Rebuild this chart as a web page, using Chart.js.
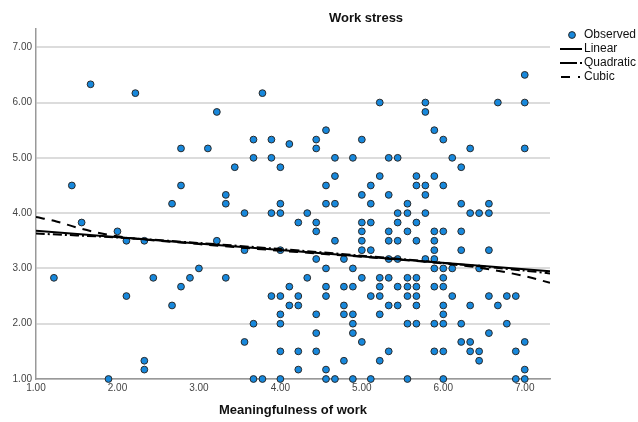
<!DOCTYPE html>
<html>
<head>
<meta charset="utf-8">
<script src="https://cdn.jsdelivr.net/npm/chart.js@4.4.0/dist/chart.umd.min.js"></script>
<style>
  html, body { margin: 0; padding: 0; background: #fff; }
  #wrap { width: 638px; height: 422px; }
</style>
</head>
<body>
<div id="wrap"><canvas id="chart" width="638" height="422"></canvas></div>
<script>
// chart texts
const TITLE = 'Work stress';
const X_TITLE = 'Meaningfulness of work';
const LEGEND_LABELS = ['Observed', 'Linear', 'Quadratic', 'Cubic'];

// axis ticks
const xTicks = [1, 2, 3, 4, 5, 6, 7];
const yTicks = [1, 2, 3, 4, 5, 6, 7];

// observed points: one x column, then every y value seen at that x
const obsCols = [
  1.22, 1.44, 1.56, 1.67, 1.89, 2.00, 2.11, 2.22, 2.33, 2.44,
  2.67, 2.78, 2.89, 3.00, 3.11, 3.22, 3.33, 3.44, 3.56, 3.67,
  3.78, 3.89, 4.00, 4.11, 4.22, 4.33, 4.44, 4.56, 4.67, 4.78,
  4.89, 5.00, 5.11, 5.22, 5.33, 5.44, 5.56, 5.67, 5.78, 5.89,
  6.00, 6.11, 6.22, 6.33, 6.44, 6.56, 6.67, 6.78, 6.89, 7.00
];
const obsRows = [
  [2.83], [4.50], [3.83], [6.33], [1.00], [3.67], [3.50, 2.50], [6.17], [3.50, 1.33, 1.17], [2.83],
  [4.17, 2.33], [5.17, 4.50, 2.67], [2.83], [3.00], [5.17], [5.83, 3.50], [4.33, 4.17, 2.83], [4.83],
  [4.00, 3.33, 1.67], [5.33, 5.00, 2.00, 1.00],
  [6.17, 1.00], [5.33, 5.00, 4.00, 2.50],
  [4.83, 4.17, 4.00, 3.33, 2.50, 2.17, 2.00, 1.50, 1.00],
  [5.25, 2.67, 2.33],
  [3.83, 2.50, 2.33, 1.50, 1.17],
  [4.00, 2.83],
  [5.33, 5.17, 3.83, 3.67, 3.17, 2.17, 1.83, 1.50],
  [5.50, 4.50, 4.17, 3.00, 2.67, 2.50, 1.17, 1.00],
  [5.00, 4.67, 4.17, 3.50, 1.00],
  [3.17, 2.67, 2.33, 2.17, 1.33],
  [5.00, 3.00, 2.67, 2.17, 2.00, 1.83, 1.00],
  [5.33, 4.33, 3.83, 3.67, 3.50, 3.33, 2.83, 1.67],
  [4.50, 4.17, 3.83, 3.33, 2.50, 1.00],
  [6.00, 4.67, 2.83, 2.67, 2.50, 2.17, 1.33],
  [5.00, 4.33, 3.67, 3.50, 3.17, 2.83, 2.33, 1.50],
  [5.00, 4.00, 3.83, 3.50, 3.17, 2.67, 2.33],
  [4.17, 4.00, 3.67, 2.83, 2.67, 2.50, 2.00, 1.00],
  [4.67, 4.50, 3.83, 3.50, 2.83, 2.67, 2.50, 2.33, 2.00],
  [6.00, 5.83, 4.50, 4.33, 4.00, 3.17],
  [5.50, 4.67, 3.67, 3.50, 3.33, 3.17, 3.00, 2.67, 2.00, 1.50],
  [5.33, 4.50, 3.67, 3.00, 2.83, 2.67, 2.33, 2.17, 2.00, 1.50, 1.00],
  [5.00, 3.00, 2.50],
  [4.83, 4.17, 3.67, 3.33, 2.00, 1.67],
  [5.17, 4.00, 2.33, 1.67, 1.50],
  [4.00, 3.00, 1.50, 1.33],
  [4.17, 4.00, 3.33, 2.50, 1.83],
  [6.00, 2.33],
  [2.50, 2.00],
  [2.50, 1.50, 1.00],
  [6.50, 6.00, 5.17, 1.67, 1.17, 1.00]
];

// fitted curves
const linearX = [1.00, 7.31];
const linearY = [3.68, 2.95];
const quadX = [1.00, 2.00, 3.00, 4.00, 5.00, 6.00, 7.00, 7.31];
const quadY = [3.63, 3.56, 3.46, 3.35, 3.23, 3.10, 2.96, 2.91];
const cubicX = [1.00, 1.25, 1.50, 1.75, 2.00, 3.00, 4.00, 5.00, 6.00, 6.50, 7.00, 7.31];
const cubicY = [3.93, 3.85, 3.74, 3.65, 3.58, 3.44, 3.32, 3.21, 3.09, 3.00, 2.86, 2.74];

const FONT = '"Liberation Sans", Arial, sans-serif';
const POINT_FILL = '#1788dc';
const POINT_EDGE = '#2a2a2a';

const pairs = (xs, ys) => xs.map((x, i) => ({ x, y: ys[i] }));
const observed = obsCols.flatMap((x, i) => obsRows[i].map(y => ({ x, y })));

// title + legend drawn by hand (SPSS puts them in odd places)
const overlayPlugin = {
  id: 'overlay',
  afterDraw(chart) {
    const ctx = chart.ctx;
    ctx.save();
    ctx.fillStyle = '#111';
    ctx.textBaseline = 'middle';
    ctx.font = 'bold 13px ' + FONT;
    ctx.textAlign = 'center';
    ctx.fillText(TITLE, 366, 18);

    ctx.font = '12px ' + FONT;
    ctx.textAlign = 'left';
    const rowY = [35, 49, 63, 77];
    LEGEND_LABELS.forEach((label, i) => {
      const y = rowY[i];
      ctx.fillStyle = '#111';
      ctx.fillText(label, 584, y);
      ctx.strokeStyle = '#000';
      ctx.lineWidth = 2;
      if (i === 0) {
        ctx.beginPath();
        ctx.arc(572, y, 3.4, 0, Math.PI * 2);
        ctx.fillStyle = POINT_FILL;
        ctx.fill();
        ctx.lineWidth = 1;
        ctx.strokeStyle = POINT_EDGE;
        ctx.stroke();
      } else if (i === 1) {
        ctx.beginPath(); ctx.moveTo(560, y); ctx.lineTo(582, y); ctx.stroke();
      } else if (i === 2) {
        ctx.beginPath(); ctx.moveTo(560, y); ctx.lineTo(577, y); ctx.stroke();
        ctx.fillStyle = '#000'; ctx.fillRect(580, y - 1, 2, 2);
      } else {
        ctx.beginPath(); ctx.moveTo(561, y); ctx.lineTo(570, y); ctx.stroke();
        ctx.fillStyle = '#000'; ctx.fillRect(578, y - 1, 2, 2);
      }
    });
    ctx.restore();
  }
};

new Chart(document.getElementById('chart'), {
  type: 'scatter',
  data: {
    datasets: [
      {
        label: 'Observed',
        data: observed,
        pointRadius: 3.4,
        pointBorderWidth: 1,
        pointBackgroundColor: POINT_FILL,
        pointBorderColor: POINT_EDGE,
        clip: false,
        order: 10
      },
      {
        label: 'Linear',
        data: pairs(linearX, linearY),
        showLine: true,
        pointRadius: 0,
        borderColor: '#000',
        borderWidth: 2,
        order: 1
      },
      {
        label: 'Quadratic',
        data: pairs(quadX, quadY),
        showLine: true,
        pointRadius: 0,
        borderColor: '#000',
        borderWidth: 2,
        borderDash: [9, 3, 2, 3],
        tension: 0.3,
        order: 2
      },
      {
        label: 'Cubic',
        data: pairs(cubicX, cubicY),
        showLine: true,
        pointRadius: 0,
        borderColor: '#000',
        borderWidth: 2,
        borderDash: [9, 7],
        cubicInterpolationMode: 'monotone',
        order: 3
      }
    ]
  },
  options: {
    responsive: false,
    animation: false,
    devicePixelRatio: 1,
    layout: { padding: { top: 29, right: 88, left: 0, bottom: 0 } },
    plugins: {
      legend: { display: false },
      tooltip: { enabled: false }
    },
    scales: {
      x: {
        type: 'linear',
        min: 1,
        max: 7.31,
        afterBuildTicks: s => { s.ticks = xTicks.map(v => ({ value: v })); },
        afterFit: s => { s.height = 43; },
        ticks: {
          callback: v => v.toFixed(2),
          font: { size: 10, family: FONT },
          color: '#444',
          padding: 3,
          maxRotation: 0,
          autoSkip: false
        },
        grid: { display: false, drawTicks: false },
        border: { color: '#999', width: 1.5 },
        title: {
          display: true,
          text: X_TITLE,
          font: { size: 13, weight: 'bold', family: FONT },
          color: '#111',
          padding: { top: 6, bottom: 4 }
        }
      },
      y: {
        min: 1,
        max: 7.33,
        afterBuildTicks: s => { s.ticks = yTicks.map(v => ({ value: v })); },
        afterFit: s => { s.width = 36; },
        ticks: {
          callback: v => v.toFixed(2),
          font: { size: 10, family: FONT },
          color: '#444',
          padding: 4
        },
        grid: { color: '#dcdcdc', lineWidth: 2, drawTicks: false },
        border: { color: '#999', width: 1.5 }
      }
    }
  },
  plugins: [overlayPlugin]
});
</script>
</body>
</html>
